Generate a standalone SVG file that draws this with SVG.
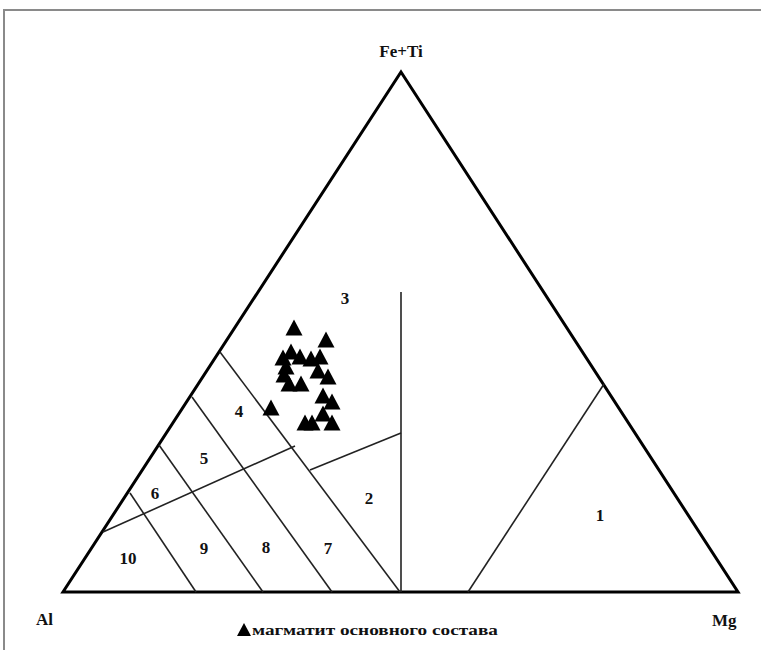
<svg xmlns="http://www.w3.org/2000/svg" xmlns:xlink="http://www.w3.org/1999/xlink" width="761" height="650" viewBox="0 0 761 650">
<style>
.frame{fill:#fff;stroke:#8a8a8a;stroke-width:2}
.outer{fill:none;stroke:#000;stroke-width:3;stroke-linejoin:miter}
.thin{fill:none;stroke:#222;stroke-width:1.6}
.lbl{font-family:"Liberation Serif","Times New Roman",serif;font-weight:bold;font-size:17px;fill:#111;text-anchor:middle}
.ax{font-family:"Liberation Serif","Times New Roman",serif;font-weight:bold;font-size:17px;fill:#111}
.leg{font-family:"Liberation Serif","Times New Roman",serif;font-weight:bold;font-size:15px;fill:#111}
.pt{fill:#000}
</style>
<defs>
<path id="tri" d="M0,-8.5 L8.5,7.5 L-8.5,7.5 Z"/>
</defs>
<rect class="frame" x="4" y="10" width="780" height="660"/>
<g id="frame-triangle">
<polygon class="outer" points="401,72 738,592 63,592"/>
</g>
<g id="connectors">
<line class="thin" x1="401" y1="292" x2="401" y2="592"/>
<line class="thin" x1="220" y1="352" x2="400" y2="592"/>
<line class="thin" x1="192" y1="397" x2="332" y2="592"/>
<line class="thin" x1="159" y1="445" x2="263" y2="592"/>
<line class="thin" x1="130" y1="493" x2="196" y2="592"/>
<line class="thin" x1="103" y1="532" x2="295" y2="446"/>
<line class="thin" x1="310" y1="470" x2="401" y2="433"/>
<line class="thin" x1="468" y1="592" x2="604" y2="384"/>
</g>
<g id="labels">
<text class="ax" x="401" y="57" text-anchor="middle">Fe+Ti</text>
<text class="ax" x="36" y="625">Al</text>
<text class="ax" x="712" y="626">Mg</text>
<text class="lbl" x="345" y="304">3</text>
<text class="lbl" x="239" y="417">4</text>
<text class="lbl" x="204" y="464">5</text>
<text class="lbl" x="155" y="499">6</text>
<text class="lbl" x="369" y="504">2</text>
<text class="lbl" x="600" y="521">1</text>
<text class="lbl" x="128" y="564">10</text>
<text class="lbl" x="204" y="554">9</text>
<text class="lbl" x="266" y="553">8</text>
<text class="lbl" x="328" y="554">7</text>
</g>
<g id="points">
<use xlink:href="#tri" class="pt" x="294" y="328"/>
<use xlink:href="#tri" class="pt" x="326" y="340"/>
<use xlink:href="#tri" class="pt" x="283" y="358"/>
<use xlink:href="#tri" class="pt" x="291" y="352"/>
<use xlink:href="#tri" class="pt" x="300" y="357"/>
<use xlink:href="#tri" class="pt" x="311" y="359"/>
<use xlink:href="#tri" class="pt" x="320" y="357"/>
<use xlink:href="#tri" class="pt" x="318" y="371"/>
<use xlink:href="#tri" class="pt" x="328" y="377"/>
<use xlink:href="#tri" class="pt" x="286" y="367"/>
<use xlink:href="#tri" class="pt" x="284" y="375"/>
<use xlink:href="#tri" class="pt" x="289" y="384"/>
<use xlink:href="#tri" class="pt" x="301" y="384"/>
<use xlink:href="#tri" class="pt" x="323" y="396"/>
<use xlink:href="#tri" class="pt" x="332" y="402"/>
<use xlink:href="#tri" class="pt" x="271" y="408"/>
<use xlink:href="#tri" class="pt" x="305" y="423"/>
<use xlink:href="#tri" class="pt" x="312" y="423"/>
<use xlink:href="#tri" class="pt" x="323" y="414"/>
<use xlink:href="#tri" class="pt" x="332" y="423"/>
</g>
<g id="legend">
<path class="pt" d="M244,623 L251,636 L237,636 Z"/>
<text class="leg" x="252" y="635" textLength="246" lengthAdjust="spacingAndGlyphs">магматит основного состава</text>
</g>
</svg>
